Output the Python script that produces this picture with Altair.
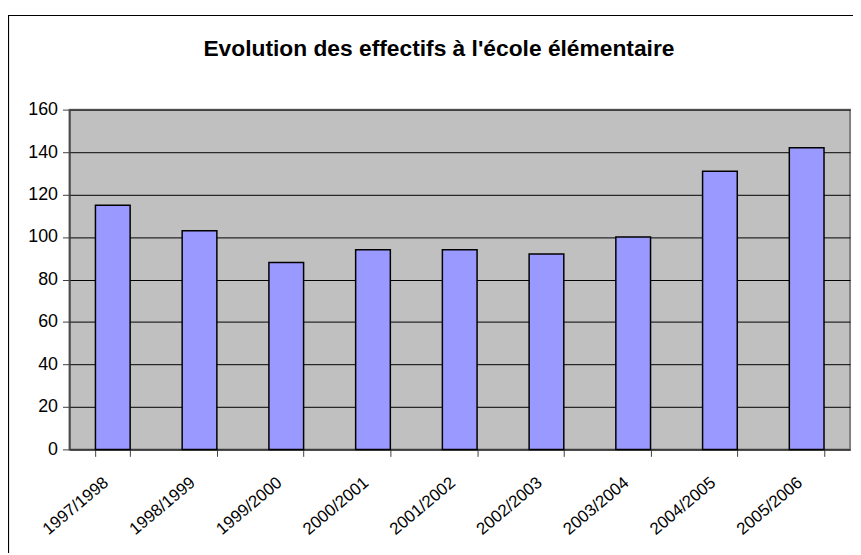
import altair as alt
import pandas as pd

years = ["1997/1998", "1998/1999", "1999/2000", "2000/2001", "2001/2002",
         "2002/2003", "2003/2004", "2004/2005", "2005/2006"]
effectifs = [115, 103, 88, 94, 94, 92, 100, 131, 142]
title_text = "Evolution des effectifs à l'école élémentaire"

df = pd.DataFrame({"annee": years, "effectif": effectifs})

W, H = 788, 343
FONT = "Liberation Sans"

bars = alt.Chart(df).mark_bar(
    fill="#9999FF", stroke="#000000", strokeWidth=1.5
).encode(
    x=alt.X("annee:N", sort=years, title=None,
            scale=alt.Scale(paddingInner=0.6, paddingOuter=0.3),
            axis=alt.Axis(labelAngle=-40, labelFontSize=17, labelFont=FONT,
                          labelColor="#000000", tickBand="extent", tickSize=7,
                          tickColor="#404040", domainColor="#404040",
                          domainWidth=1.5, labelPadding=24, labelOffset=-7,
                          labelAlign="right", labelBaseline="middle",
                          grid=False)),
    y=alt.Y("effectif:Q", title=None,
            scale=alt.Scale(domain=[0, 160], nice=False),
            axis=alt.Axis(values=list(range(0, 161, 20)), labelFontSize=18,
                          labelFont=FONT, labelColor="#000000", tickSize=7,
                          tickColor="#404040", domainColor="#404040",
                          domainWidth=1.5, labelPadding=5, grid=True,
                          gridColor="#000000", gridWidth=1, gridOpacity=1)),
)

one = pd.DataFrame({"k": [0]})

border = alt.Chart(one).mark_rect(
    fill=None, stroke="#000000", strokeWidth=1.2, clip=False
).encode(
    x=alt.value(-61.5), x2=alt.value(W + 40),
    y=alt.value(-95), y2=alt.value(H + 200),
)

title = alt.Chart(one).mark_text(
    font=FONT, fontSize=23, fontWeight="bold", color="#000000",
    align="center", baseline="alphabetic", clip=False
).encode(
    x=alt.value(373), y=alt.value(-54.5), text=alt.value(title_text),
)

chart = alt.layer(border, title, bars).properties(
    width=W, height=H,
    autosize=alt.AutoSizeParams(type="none"),
    padding={"left": 62, "top": 100, "right": 3, "bottom": 102},
    background="#FFFFFF",
).configure_view(
    fill="#C0C0C0", stroke="#808080", strokeWidth=2
)

chart.save("out.html", embed_options={"renderer": "svg", "actions": False})
